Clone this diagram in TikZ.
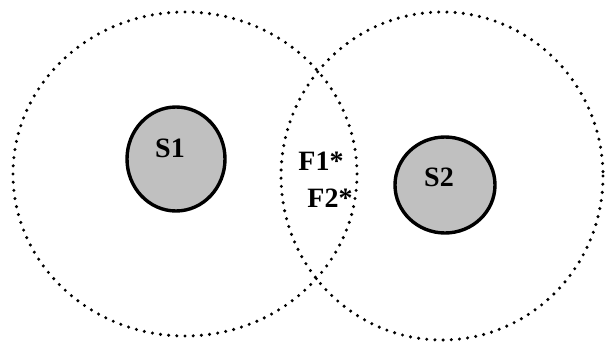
\documentclass[tikz,border=0pt]{standalone}
\usepackage{fontspec}
\setmainfont{Liberation Serif}
\usepackage{xcolor}
\usepackage{tikz}
\usetikzlibrary{positioning}

\definecolor{sitegray}{RGB}{192,192,192}

\tikzset{
    zone/.style={line width=3.4pt, dash pattern=on 0pt off 8.2pt, line cap=round},
    site/.style={fill=sitegray, draw=black, line width=3.4pt},
    lbl/.style={font=\fontsize{28}{32}\selectfont\bfseries, anchor=base, inner sep=0pt}
}

\begin{document}
\begin{tikzpicture}[x=1pt, y=-1pt]
    \useasboundingbox (0,0) rectangle (605,343);

    % Coverage zones
    \draw[zone] (185,174) ellipse (172 and 162);
    \draw[zone] (442,176) ellipse (161 and 164);

    % Sites
    \filldraw[site] (176,159) ellipse (49 and 52);
    \filldraw[site] (445,185) ellipse (50 and 48);
    \node[lbl] (s1) at (170,157) {S1};
    \node[lbl] (s2) at (439,186) {S2};

    % Shared points
    \node[lbl] (f1) at (321,170) {F1*};
    \node[lbl] (f2) at (330,207) {F2*};

\end{tikzpicture}
\end{document}
